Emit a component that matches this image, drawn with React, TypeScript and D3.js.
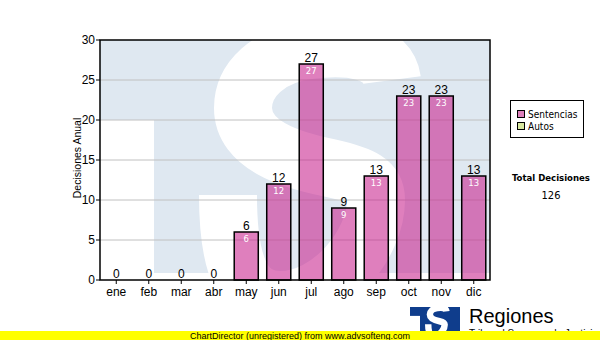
import React, { useRef, useEffect } from "react";
import * as d3 from "d3";

// datos del grafico
const months = ["ene", "feb", "mar", "abr", "may", "jun", "jul", "ago", "sep", "oct", "nov", "dic"];
const sentencias = [0, 0, 0, 0, 6, 12, 27, 9, 13, 23, 23, 13];
const autos = [0, 0, 0, 0, 0, 0, 0, 0, 0, 0, 0, 0];
const yTicks = [0, 5, 10, 15, 20, 25, 30];
const seriesNames = ["Sentencias", "Autos"];
const seriesColors = ["#dd80bb", "#d8e8a0"];

const W = 600;
const H = 340;
const plot = { left: 100, right: 490, top: 40, bottom: 280 };

// contorno de la "S" del logo (coordenadas de la marca de agua)
const sPath =
  "M 392 80 C 388 50, 350 45, 310 50 C 268 55, 243 80, 243 108 " +
  "C 243 145, 290 160, 330 168 C 362 175, 376 182, 376 200 " +
  "C 376 245, 330 300, 280 300 C 240 300, 228 260, 228 195";

function drawLogo(g: any, color: string) {
  g.append("rect").attr("x", 64).attr("y", 40).attr("width", 450).attr("height", 80).attr("fill", color);
  g.append("rect").attr("x", 154).attr("y", 40).attr("width", 360).attr("height", 233).attr("fill", color);
  g.append("path")
    .attr("d", sPath)
    .attr("fill", "none")
    .attr("stroke", "#ffffff")
    .attr("stroke-width", 58);
}

function App() {
  const svgRef = useRef<SVGSVGElement>(null);

  useEffect(() => {
    const svg = d3.select(svgRef.current);
    svg.selectAll("*").remove();

    const x = d3.scaleBand().domain(months).range([plot.left, plot.right]).paddingInner(0.26).paddingOuter(0.13);
    const y = d3.scaleLinear().domain([0, 30]).range([plot.bottom, plot.top]);

    const defs = svg.append("defs");
    defs.append("clipPath").attr("id", "plotClip")
      .append("rect")
      .attr("x", plot.left).attr("y", plot.top)
      .attr("width", plot.right - plot.left).attr("height", plot.bottom - plot.top);
    defs.append("clipPath").attr("id", "logoClip")
      .append("rect").attr("x", 64).attr("y", 40).attr("width", 450).attr("height", 233);

    svg.append("rect").attr("width", W).attr("height", H).attr("fill", "#ffffff");

    // marca de agua
    const wm = svg.append("g").attr("clip-path", "url(#plotClip)")
      .append("g").attr("clip-path", "url(#logoClip)");
    drawLogo(wm, "#dfe8f1");

    // rejilla
    svg.append("g")
      .selectAll("line")
      .data(yTicks.filter(t => t > 0 && t < 30))
      .join("line")
      .attr("x1", plot.left).attr("x2", plot.right)
      .attr("y1", d => y(d)).attr("y2", d => y(d))
      .attr("stroke", "#c0c0c0").attr("stroke-width", 1);

    // barras apiladas
    const rows = months.map((m, i) => ({ month: m, Sentencias: sentencias[i], Autos: autos[i] }));
    const stacked = d3.stack<any>().keys(seriesNames)(rows);

    stacked.forEach((layer, li) => {
      svg.append("g")
        .selectAll("rect")
        .data(layer.filter(d => d[1] - d[0] > 0))
        .join("rect")
        .attr("x", d => x(d.data.month)!)
        .attr("width", x.bandwidth())
        .attr("y", d => y(d[1]))
        .attr("height", d => y(d[0]) - y(d[1]))
        .attr("fill", li === 0 ? "rgb(200,34,141)" : "rgb(180,210,90)")
        .attr("fill-opacity", 0.58)
        .attr("stroke", "#000000")
        .attr("stroke-width", 1.5);
    });

    // etiquetas internas
    svg.append("g")
      .selectAll("text")
      .data(rows.filter(d => d.Sentencias > 0))
      .join("text")
      .attr("x", d => x(d.month)! + x.bandwidth() / 2)
      .attr("y", d => y(d.Sentencias) + 10)
      .attr("text-anchor", "middle")
      .attr("font-family", "DejaVu Sans, sans-serif")
      .attr("font-size", 8.5)
      .attr("fill", "#ffffff")
      .text(d => d.Sentencias);

    // totales sobre las barras
    svg.append("g")
      .selectAll("text")
      .data(rows)
      .join("text")
      .attr("x", d => x(d.month)! + x.bandwidth() / 2)
      .attr("y", d => y(d.Sentencias + d.Autos) - 2.5)
      .attr("text-anchor", "middle")
      .attr("font-family", "Liberation Sans, Arial, sans-serif")
      .attr("font-size", 12)
      .attr("fill", "#000000")
      .text(d => d.Sentencias + d.Autos);

    // borde del area
    svg.append("rect")
      .attr("x", plot.left).attr("y", plot.top)
      .attr("width", plot.right - plot.left).attr("height", plot.bottom - plot.top)
      .attr("fill", "none").attr("stroke", "#000000").attr("stroke-width", 1.5);

    // eje y
    const yAxis = svg.append("g");
    yAxis.selectAll("line")
      .data(yTicks)
      .join("line")
      .attr("x1", plot.left - 4).attr("x2", plot.left)
      .attr("y1", d => y(d)).attr("y2", d => y(d))
      .attr("stroke", "#000000");
    yAxis.selectAll("text")
      .data(yTicks)
      .join("text")
      .attr("x", plot.left - 5)
      .attr("y", d => y(d) + 4)
      .attr("text-anchor", "end")
      .attr("font-family", "Liberation Sans, Arial, sans-serif")
      .attr("font-size", 12)
      .attr("fill", "#000000")
      .text(d => d);

    svg.append("text")
      .attr("transform", `translate(81,${(plot.top + plot.bottom) / 2 - 2}) rotate(-90)`)
      .attr("text-anchor", "middle")
      .attr("font-family", "Liberation Sans, Arial, sans-serif")
      .attr("font-size", 10.5)
      .attr("fill", "#000000")
      .text("Decisiones Anual");

    // eje x
    const xAxis = svg.append("g");
    xAxis.selectAll("line")
      .data(months)
      .join("line")
      .attr("x1", d => x(d)! + x.bandwidth() / 2).attr("x2", d => x(d)! + x.bandwidth() / 2)
      .attr("y1", plot.bottom).attr("y2", plot.bottom + 4)
      .attr("stroke", "#000000");
    xAxis.selectAll("text")
      .data(months)
      .join("text")
      .attr("x", d => x(d)! + x.bandwidth() / 2)
      .attr("y", plot.bottom + 16)
      .attr("text-anchor", "middle")
      .attr("font-family", "Liberation Sans, Arial, sans-serif")
      .attr("font-size", 12)
      .attr("fill", "#000000")
      .text(d => d);

    // leyenda
    const legend = svg.append("g");
    legend.append("rect")
      .attr("x", 510.5).attr("y", 100.5).attr("width", 73).attr("height", 37)
      .attr("fill", "#ffffff").attr("stroke", "#000000");
    seriesNames.forEach((name, i) => {
      legend.append("rect")
        .attr("x", 517.5).attr("y", 110.5 + i * 12).attr("width", 7).attr("height", 7)
        .attr("fill", seriesColors[i]).attr("stroke", "#000000");
      legend.append("text")
        .attr("x", 528).attr("y", 118 + i * 12)
        .attr("font-family", "DejaVu Sans Condensed, DejaVu Sans, sans-serif")
        .attr("font-size", 10)
        .attr("fill", "#000000")
        .text(name);
    });

    // total
    svg.append("text")
      .attr("x", 551).attr("y", 181)
      .attr("text-anchor", "middle")
      .attr("font-family", "DejaVu Sans Condensed, DejaVu Sans, sans-serif")
      .attr("font-weight", "bold")
      .attr("font-size", 9.5)
      .attr("fill", "#000000")
      .text("Total Decisiones");
    svg.append("text")
      .attr("x", 551).attr("y", 199)
      .attr("text-anchor", "middle")
      .attr("font-family", "DejaVu Sans Condensed, DejaVu Sans, sans-serif")
      .attr("font-size", 11)
      .attr("fill", "#000000")
      .text(d3.sum(sentencias) + d3.sum(autos));

    // logo inferior
    const logo = svg.append("g")
      .attr("transform", `translate(410,307) scale(${1 / 9}) translate(-64,-40)`)
      .append("g").attr("clip-path", "url(#logoClip)");
    drawLogo(logo, "#0f3d8c");
    svg.append("text")
      .attr("x", 469).attr("y", 323)
      .attr("font-family", "Liberation Sans, Arial, sans-serif")
      .attr("font-size", 20)
      .attr("fill", "#000000")
      .text("Regiones");
    svg.append("text")
      .attr("x", 469).attr("y", 337)
      .attr("font-family", "Liberation Sans, Arial, sans-serif")
      .attr("font-size", 10)
      .attr("fill", "#000000")
      .text("Tribunal Supremo de Justicia");

    // barra de registro
    svg.append("rect").attr("x", 0).attr("y", 331).attr("width", W).attr("height", 9).attr("fill", "#ffff00");
    svg.append("text")
      .attr("x", 300).attr("y", 338.5)
      .attr("text-anchor", "middle")
      .attr("font-family", "Liberation Sans, Arial, sans-serif")
      .attr("font-size", 9)
      .attr("fill", "#000000")
      .text("ChartDirector (unregistered) from www.advsofteng.com");
  }, []);

  return (
    <svg ref={svgRef} width={W} height={H} style={{ position: "absolute", left: 0, top: 0 }}></svg>
  );
}

export default App;
